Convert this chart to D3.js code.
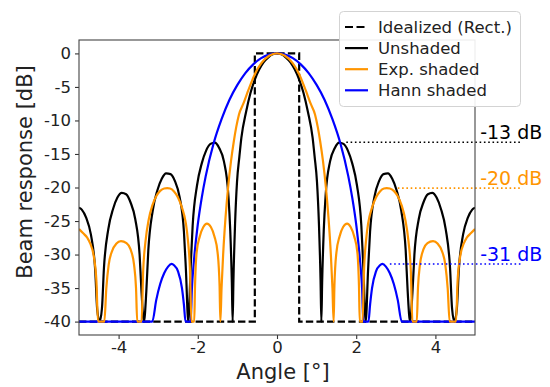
<!DOCTYPE html>
<html>
<head>
<meta charset="utf-8">
<script src="https://cdn.jsdelivr.net/npm/d3@7"></script>
<style>
body { margin: 0; background: white; }
svg text { font-family: "DejaVu Sans", sans-serif; }
</style>
</head>
<body>
<svg id="chart" width="550" height="387"></svg>
<script>
// beam patterns: [angle (deg), response (dB)], floor at -40
var rectPattern = [[-5, -40], [-0.56, -40], [-0.56, 0], [0.56, 0], [0.56, -40], [5, -40]];

var unshaded = [
    [-5.0, -23.0], [-4.93, -23.3], [-4.82, -24.5], [-4.7, -27.0], [-4.59, -32.4], [-4.54, -38.2], [-4.48, -40],
    [-4.42, -38.0], [-4.37, -32.0], [-4.26, -26.2], [-4.14, -23.2], [-4.03, -21.5], [-3.92, -20.8], [-3.81, -21.0],
    [-3.7, -22.2], [-3.58, -24.7], [-3.47, -30.0], [-3.42, -35.7], [-3.36, -40],
    [-3.3, -35.5], [-3.25, -29.4], [-3.14, -23.5], [-3.02, -20.4], [-2.91, -18.7], [-2.8, -17.9], [-2.69, -18.0],
    [-2.58, -19.0], [-2.46, -21.4], [-2.35, -26.6], [-2.3, -32.3], [-2.24, -40],
    [-2.18, -31.9], [-2.13, -25.7], [-2.02, -19.7], [-1.9, -16.4], [-1.79, -14.5], [-1.68, -13.5], [-1.57, -13.3],
    [-1.46, -14.1], [-1.34, -16.1], [-1.23, -21.0], [-1.18, -26.5], [-1.14, -34.2], [-1.12, -40],
    [-1.1, -33.8], [-1.06, -25.6], [-1.01, -19.2], [-0.95, -15.4], [-0.9, -12.6], [-0.78, -8.7], [-0.67, -5.9],
    [-0.56, -3.9], [-0.45, -2.4], [-0.34, -1.33], [-0.22, -0.58], [-0.11, -0.14], [0, 0],
    [0.11, -0.14], [0.22, -0.58], [0.34, -1.33], [0.45, -2.4], [0.56, -3.9], [0.67, -5.9], [0.78, -8.7],
    [0.9, -12.6], [0.95, -15.4], [1.01, -19.2], [1.06, -25.6], [1.1, -33.8], [1.12, -40],
    [1.14, -34.2], [1.18, -26.5], [1.23, -21.0], [1.34, -16.1], [1.46, -14.1], [1.57, -13.3], [1.68, -13.5],
    [1.79, -14.5], [1.9, -16.4], [2.02, -19.7], [2.13, -25.7], [2.18, -31.9], [2.24, -40],
    [2.3, -32.3], [2.35, -26.6], [2.46, -21.4], [2.58, -19.0], [2.69, -18.0], [2.8, -17.9], [2.91, -18.7],
    [3.02, -20.4], [3.14, -23.5], [3.25, -29.4], [3.3, -35.5], [3.36, -40],
    [3.42, -35.7], [3.47, -30.0], [3.58, -24.7], [3.7, -22.2], [3.81, -21.0], [3.92, -20.8], [4.03, -21.5],
    [4.14, -23.2], [4.26, -26.2], [4.37, -32.0], [4.42, -38.0], [4.48, -40],
    [4.54, -38.2], [4.59, -32.4], [4.7, -27.0], [4.82, -24.5], [4.93, -23.3], [5.0, -23.0]
];

var expShaded = [
    [-5.0, -26.2], [-4.9, -26.8], [-4.79, -27.5], [-4.72, -28.3], [-4.62, -30.5], [-4.56, -34.0], [-4.52, -40],
    [-4.36, -40], [-4.31, -35.0], [-4.25, -31.5], [-4.16, -29.4], [-4.06, -28.4], [-3.94, -28.0], [-3.8, -28.3],
    [-3.7, -29.2], [-3.61, -31.5], [-3.56, -35.0], [-3.53, -40],
    [-3.42, -40], [-3.38, -32.5], [-3.32, -28.0], [-3.24, -24.8], [-3.15, -22.7], [-3.05, -21.3], [-2.95, -20.5],
    [-2.85, -20.15], [-2.77, -20.1], [-2.7, -20.15], [-2.6, -20.6], [-2.5, -21.5], [-2.4, -23.0], [-2.3, -25.4],
    [-2.25, -27.8], [-2.2, -32.0], [-2.16, -40],
    [-2.09, -40], [-2.07, -34.7], [-2.03, -29.7], [-1.95, -27.3], [-1.86, -25.9], [-1.77, -25.4], [-1.67, -25.9],
    [-1.58, -27.3], [-1.5, -29.7], [-1.45, -34.7], [-1.43, -40],
    [-1.4, -35.0], [-1.36, -30.0], [-1.3, -24.5], [-1.24, -20.3], [-1.16, -16.0], [-1.09, -13.1], [-1.03, -11.0],
    [-0.96, -9.1], [-0.85, -7.5], [-0.75, -5.9], [-0.64, -4.2], [-0.56, -3.1], [-0.4, -1.5], [-0.2, -0.35], [0, 0],
    [0.2, -0.35], [0.4, -1.5], [0.56, -3.1], [0.64, -4.2], [0.75, -5.9], [0.85, -7.5], [0.96, -9.1], [1.03, -11.0],
    [1.09, -13.1], [1.16, -16.0], [1.24, -20.3], [1.3, -24.5], [1.36, -30.0], [1.4, -35.0], [1.43, -40],
    [1.45, -34.7], [1.5, -29.7], [1.58, -27.3], [1.67, -25.9], [1.77, -25.4], [1.86, -25.9], [1.95, -27.3],
    [2.03, -29.7], [2.07, -34.7], [2.09, -40], [2.16, -40],
    [2.2, -32.0], [2.25, -27.8], [2.3, -25.4], [2.4, -23.0], [2.5, -21.5], [2.6, -20.6], [2.7, -20.15],
    [2.77, -20.1], [2.85, -20.15], [2.95, -20.5], [3.05, -21.3], [3.15, -22.7], [3.24, -24.8], [3.32, -28.0],
    [3.38, -32.5], [3.42, -40], [3.53, -40],
    [3.56, -35.0], [3.61, -31.5], [3.7, -29.2], [3.8, -28.3], [3.94, -28.0], [4.06, -28.4], [4.16, -29.4],
    [4.25, -31.5], [4.31, -35.0], [4.36, -40], [4.52, -40],
    [4.56, -34.0], [4.62, -30.5], [4.72, -28.3], [4.79, -27.5], [4.9, -26.8], [5.0, -26.2]
];

var hannShaded = [
    [-5, -40], [-3.15, -40], [-3.05, -36.8], [-2.95, -34.4], [-2.85, -32.8], [-2.75, -31.8], [-2.66, -31.4],
    [-2.6, -31.6], [-2.5, -32.5], [-2.4, -35.0], [-2.35, -37.5], [-2.31, -40], [-2.18, -40], [-2.15, -35.2],
    [-2.1, -31.1], [-2.0, -25.5], [-1.9, -21.5], [-1.8, -18.3], [-1.6, -13.4], [-1.4, -9.8], [-1.2, -6.9],
    [-1.0, -4.7], [-0.8, -2.93], [-0.6, -1.63], [-0.4, -0.71], [-0.2, -0.18], [0, 0],
    [0.2, -0.18], [0.4, -0.71], [0.6, -1.63], [0.8, -2.93], [1.0, -4.7], [1.2, -6.9], [1.4, -9.8], [1.6, -13.4],
    [1.8, -18.3], [1.9, -21.5], [2.0, -25.5], [2.1, -31.1], [2.15, -35.2], [2.18, -40], [2.31, -40], [2.35, -37.5],
    [2.4, -35.0], [2.5, -32.5], [2.6, -31.6], [2.66, -31.4], [2.75, -31.8], [2.85, -32.8], [2.95, -34.4],
    [3.05, -36.8], [3.15, -40], [5, -40]
];

var xTicks = [-4, -2, 0, 2, 4];
var yTicks = [0, -5, -10, -15, -20, -25, -30, -35, -40];

// sidelobe level markers
var levelValues = [-13.26, -20.1, -31.4];
var levelStart = [1.75, 3.05, 2.85];
var levelLabels = ["-13 dB", "-20 dB", "-31 dB"];
var levelColors = ["black", "#ff9500", "blue"];

var legendNames = ["Idealized (Rect.)", "Unshaded", "Exp. shaded", "Hann shaded"];
var legendColors = ["black", "black", "#ff9500", "blue"];

var svg = d3.select("#chart");
var margin = {top: 40, left: 79, bottom: 52, right: 75};
var width = 550, height = 387;

var x = d3.scaleLinear().domain([-5, 5]).range([margin.left, width - margin.right]);
var y = d3.scaleLinear().domain([-42, 2]).range([height - margin.bottom, margin.top]);

svg.append("clipPath").attr("id", "plotclip")
    .append("rect")
    .attr("x", x(-5)).attr("y", y(2))
    .attr("width", x(5) - x(-5)).attr("height", y(-42) - y(2));

var line = d3.line()
    .x(d => x(d[0]))
    .y(d => y(d[1]))
    .curve(d3.curveMonotoneX);

var plot = svg.append("g").attr("clip-path", "url(#plotclip)");

plot.append("path")
    .datum(rectPattern)
    .attr("d", d3.line().x(d => x(d[0])).y(d => y(d[1])))
    .attr("fill", "none")
    .attr("stroke", "black")
    .attr("stroke-width", 2.2)
    .attr("stroke-dasharray", "7.4,3.2");

plot.append("path").datum(unshaded)
    .attr("d", line).attr("fill", "none").attr("stroke", "black").attr("stroke-width", 2.2);

plot.append("path").datum(hannShaded)
    .attr("d", line).attr("fill", "none").attr("stroke", "blue").attr("stroke-width", 2.2);

plot.append("path").datum(expShaded)
    .attr("d", line).attr("fill", "none").attr("stroke", "#ff9500").attr("stroke-width", 2.2);

// dotted level lines run past the right spine
levelValues.forEach(function(v, i) {
    svg.append("line")
        .attr("x1", x(levelStart[i])).attr("x2", x(6.2))
        .attr("y1", y(v)).attr("y2", y(v))
        .attr("stroke", levelColors[i])
        .attr("stroke-width", 1.6)
        .attr("stroke-dasharray", "1.6,2.7");
    svg.append("text")
        .attr("x", x(5.13))
        .attr("y", y(v) - 3)
        .attr("fill", levelColors[i])
        .style("font-size", "19px")
        .text(levelLabels[i]);
});

// axes
var xAxis = svg.append("g")
    .attr("transform", `translate(0,${y(-42)})`)
    .call(d3.axisBottom(x).tickValues(xTicks).tickSize(4).tickPadding(2).tickFormat(d3.format("d")));
var yAxis = svg.append("g")
    .attr("transform", `translate(${x(-5)},0)`)
    .call(d3.axisLeft(y).tickValues(yTicks).tickSize(4).tickPadding(4).tickFormat(d3.format("d")));

[xAxis, yAxis].forEach(function(g) {
    g.select(".domain").remove();
    g.selectAll(".tick line").attr("stroke", "#333").attr("stroke-width", 1.1);
    g.selectAll(".tick text")
        .attr("fill", "#222")
        .style("font-family", "DejaVu Sans")
        .style("font-size", "16.5px")
        .text(d => d < 0 ? "-" + Math.abs(d) : d);
});

// spines
svg.append("rect")
    .attr("x", x(-5)).attr("y", y(2))
    .attr("width", x(5) - x(-5)).attr("height", y(-42) - y(2))
    .attr("fill", "none")
    .attr("stroke", "#444")
    .attr("stroke-width", 1.1);

svg.append("text")
    .attr("x", 283).attr("y", 379)
    .attr("text-anchor", "middle")
    .attr("fill", "#222")
    .style("font-size", "21px")
    .text("Angle [°]");

svg.append("text")
    .attr("transform", "translate(32,172) rotate(-90)")
    .attr("text-anchor", "middle")
    .attr("fill", "#222")
    .style("font-size", "21px")
    .text("Beam response [dB]");

// legend
var legend = svg.append("g");
legend.append("rect")
    .attr("x", 339.5).attr("y", 11.5)
    .attr("width", 181).attr("height", 95)
    .attr("rx", 4)
    .attr("fill", "white")
    .attr("fill-opacity", 0.9)
    .attr("stroke", "#d3d3d3");

legendNames.forEach(function(name, i) {
    var ly = 27 + i * 21.1;
    legend.append("line")
        .attr("x1", 345).attr("x2", 368)
        .attr("y1", ly).attr("y2", ly)
        .attr("stroke", legendColors[i])
        .attr("stroke-width", 2.2)
        .attr("stroke-dasharray", i == 0 ? "8,3.5" : null);
    legend.append("text")
        .attr("x", 378).attr("y", ly)
        .attr("dy", "0.36em")
        .attr("fill", "#222")
        .style("font-size", "16.5px")
        .text(name);
});
</script>
</body>
</html>
